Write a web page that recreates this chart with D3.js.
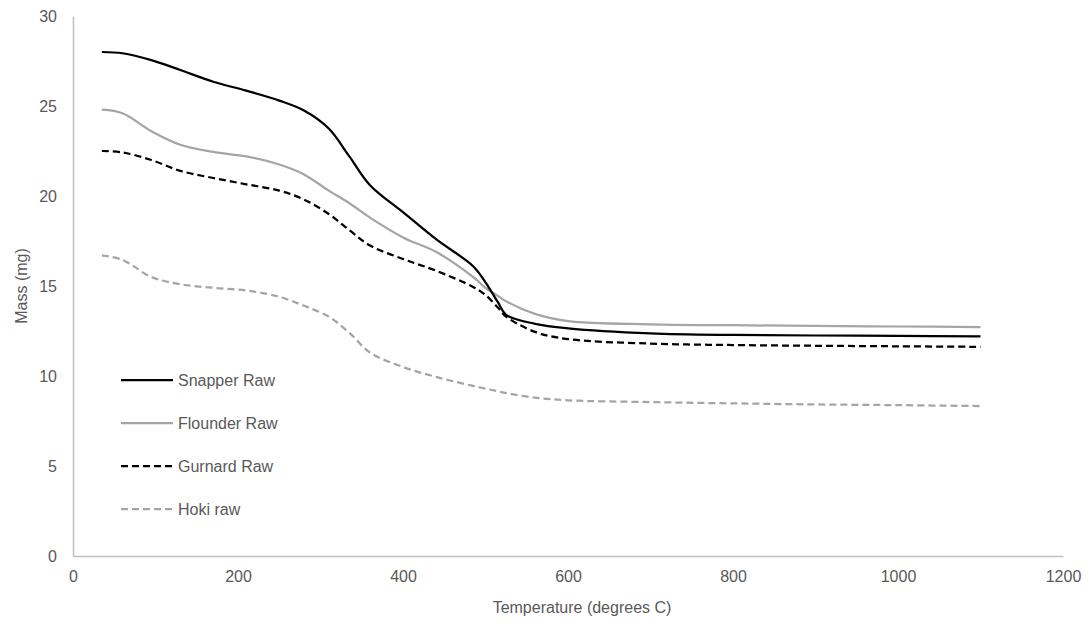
<!DOCTYPE html>
<html>
<head>
<meta charset="utf-8">
<script src="https://cdn.jsdelivr.net/npm/d3@7"></script>
<style>
  html, body { margin: 0; padding: 0; background: #fff; }
  svg { display: block; font-family: "Liberation Sans", Arial, sans-serif; }
</style>
</head>
<body>
<svg id="chart" width="1090" height="623"></svg>
<script>
// Temperatures (degrees C) at which mass was sampled
const temperature = [35, 60, 95, 130, 170, 210, 250, 280, 310, 335, 360, 400, 440, 485, 500, 515, 525, 560, 600, 700, 800, 900, 1000, 1100];

// Mass (mg) for each sample
const snapperRaw  = [28.0, 27.93, 27.55, 27.0, 26.35, 25.85, 25.3, 24.75, 23.75, 22.2, 20.6, 19.1, 17.6, 16.1, 15.2, 14.1, 13.4, 12.9, 12.65, 12.37, 12.28, 12.25, 12.23, 12.2];
const flounderRaw = [24.8, 24.6, 23.6, 22.85, 22.45, 22.2, 21.75, 21.2, 20.3, 19.6, 18.8, 17.7, 16.9, 15.5, 14.9, 14.45, 14.15, 13.45, 13.05, 12.87, 12.82, 12.78, 12.75, 12.72];
const gurnardRaw  = [22.5, 22.42, 22.0, 21.4, 21.0, 20.65, 20.3, 19.8, 19.0, 18.1, 17.25, 16.5, 15.85, 14.95, 14.5, 13.8, 13.3, 12.45, 12.05, 11.8, 11.72, 11.68, 11.65, 11.62];
const hokiRaw     = [16.7, 16.45, 15.5, 15.1, 14.9, 14.75, 14.4, 13.9, 13.3, 12.4, 11.3, 10.5, 9.95, 9.45, 9.3, 9.15, 9.05, 8.8, 8.65, 8.55, 8.48, 8.42, 8.38, 8.33];

const seriesNames = ["Snapper Raw", "Flounder Raw", "Gurnard Raw", "Hoki raw"];
const xTicks = [0, 200, 400, 600, 800, 1000, 1200];
const yTicks = [0, 5, 10, 15, 20, 25, 30];

const series = [
  { name: seriesNames[0], values: snapperRaw,  color: "#000000", dash: null },
  { name: seriesNames[1], values: flounderRaw, color: "#a5a5a5", dash: null },
  { name: seriesNames[2], values: gurnardRaw,  color: "#000000", dash: "7,4" },
  { name: seriesNames[3], values: hokiRaw,     color: "#a5a5a5", dash: "7,4" }
];

const svg = d3.select("#chart");
const margin = { left: 73, right: 1063, top: 16, bottom: 556 };

const x = d3.scaleLinear().domain([0, 1200]).range([margin.left, margin.right]);
const y = d3.scaleLinear().domain([0, 30]).range([margin.bottom, margin.top]);

const textColor = "#595959";
const axisColor = "#bfbfbf";
const tickFont = "16px";
const labelFont = "16px";

// x axis
const xAxis = svg.append("g")
  .attr("transform", `translate(0,${margin.bottom})`)
  .call(d3.axisBottom(x).tickValues(xTicks).tickSize(0).tickPadding(15).tickFormat(d3.format("d")));
xAxis.select(".domain").attr("stroke", axisColor).attr("stroke-width", 1.5);
xAxis.selectAll("text").attr("fill", textColor).style("font-size", tickFont);

// y axis
const yAxis = svg.append("g")
  .attr("transform", `translate(${margin.left},0)`)
  .call(d3.axisLeft(y).tickValues(yTicks).tickSize(0).tickPadding(16).tickFormat(d3.format("d")));
yAxis.select(".domain").attr("stroke", axisColor).attr("stroke-width", 1.5);
yAxis.selectAll("text").attr("fill", textColor).style("font-size", tickFont);

// axis titles
svg.append("text")
  .attr("x", (margin.left + margin.right) / 2 + 14)
  .attr("y", 613)
  .attr("text-anchor", "middle")
  .attr("fill", textColor)
  .style("font-size", labelFont)
  .text("Temperature (degrees C)");

svg.append("text")
  .attr("transform", `translate(27,${(margin.top + margin.bottom) / 2}) rotate(-90)`)
  .attr("text-anchor", "middle")
  .attr("fill", textColor)
  .style("font-size", labelFont)
  .text("Mass (mg)");

// lines
const line = d3.line()
  .x((d, i) => x(temperature[i]))
  .y(d => y(d))
  .curve(d3.curveCatmullRom.alpha(0.5));

svg.append("g").selectAll("path")
  .data(series.slice().reverse())
  .join("path")
  .attr("d", d => line(d.values))
  .attr("fill", "none")
  .attr("stroke", d => d.color)
  .attr("stroke-width", 2.25)
  .attr("stroke-dasharray", d => d.dash);

// legend
const legend = svg.append("g").selectAll("g")
  .data(series)
  .join("g")
  .attr("transform", (d, i) => `translate(121,${380 + i * 43})`);

legend.append("line")
  .attr("x1", 0).attr("x2", 52)
  .attr("stroke", d => d.color)
  .attr("stroke-width", 2.25)
  .attr("stroke-dasharray", d => d.dash);

legend.append("text")
  .attr("x", 57)
  .attr("dy", "0.35em")
  .attr("fill", textColor)
  .style("font-size", labelFont)
  .text(d => d.name);
</script>
</body>
</html>
